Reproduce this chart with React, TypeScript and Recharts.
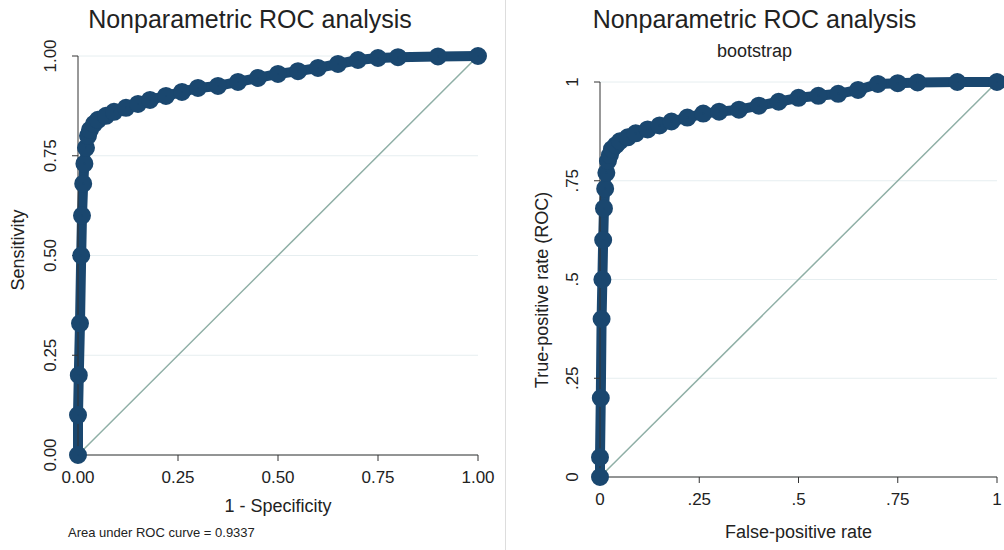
import React from 'react';
import { CartesianGrid, Line, LineChart, XAxis, YAxis } from 'recharts';

// ============ Data ============

const leftFpr = [0, 0, 0.002, 0.005, 0.008, 0.01, 0.013, 0.016, 0.02, 0.025, 0.03, 0.04, 0.05, 0.07, 0.09, 0.12, 0.15, 0.18, 0.22, 0.26, 0.3, 0.35, 0.4, 0.45, 0.5, 0.55, 0.6, 0.65, 0.7, 0.75, 0.8, 0.9, 1];
const leftTpr = [0, 0.1, 0.2, 0.33, 0.5, 0.6, 0.68, 0.73, 0.77, 0.8, 0.815, 0.83, 0.84, 0.85, 0.86, 0.87, 0.88, 0.89, 0.9, 0.91, 0.92, 0.925, 0.935, 0.945, 0.955, 0.962, 0.97, 0.98, 0.99, 0.995, 0.997, 0.999, 1];

const rightFpr = [0, 0, 0.002, 0.004, 0.006, 0.008, 0.01, 0.013, 0.016, 0.02, 0.025, 0.03, 0.04, 0.05, 0.07, 0.09, 0.12, 0.15, 0.18, 0.22, 0.26, 0.3, 0.35, 0.4, 0.45, 0.5, 0.55, 0.6, 0.65, 0.7, 0.75, 0.8, 0.9, 1];
const rightTpr = [0, 0.05, 0.2, 0.4, 0.5, 0.6, 0.68, 0.73, 0.77, 0.8, 0.815, 0.83, 0.84, 0.85, 0.86, 0.87, 0.88, 0.89, 0.9, 0.91, 0.92, 0.925, 0.93, 0.94, 0.95, 0.96, 0.965, 0.97, 0.98, 0.995, 0.997, 0.999, 1, 1];

const leftTicks = ['0.00', '0.25', '0.50', '0.75', '1.00'];
const rightTicks = ['0', '.25', '.5', '.75', '1'];
const tickValues = [0, 0.25, 0.5, 0.75, 1];

const CURVE = '#1a476f';
const DIAG = '#8fafa6';
const FONT = '"Liberation Sans", Arial, sans-serif';

const leftData = leftFpr.map((x, i) => ({ x, y: leftTpr[i] }));
const rightData = rightFpr.map((x, i) => ({ x, y: rightTpr[i] }));
const diagData = [{ x: 0, y: 0 }, { x: 1, y: 1 }];

// ============ Ticks ============

const makeYTick = (labels: string[]) => (props: any) => {
  const { x, y, payload } = props;
  const label = labels[tickValues.indexOf(payload.value)];
  return (
    <text x={x - 14} y={y} transform={`rotate(-90, ${x - 14}, ${y})`} textAnchor="middle" fontSize={17} fill="#222" fontFamily={FONT}>
      {label}
    </text>
  );
};

const makeXTick = (labels: string[]) => (props: any) => {
  const { x, y, payload } = props;
  const label = labels[tickValues.indexOf(payload.value)];
  return (
    <text x={x} y={y + 20} textAnchor="middle" fontSize={17} fill="#222" fontFamily={FONT}>
      {label}
    </text>
  );
};

// ============ Panel ============

const RocPanel: React.FC<{
  data: { x: number; y: number }[];
  labels: string[];
  width: number;
  margin: { top: number; right: number; bottom: number; left: number };
}> = ({ data, labels, width, margin }) => (
  <LineChart width={width} height={550} margin={margin}>
    <CartesianGrid horizontal vertical={false} stroke="#e6eef0" />
    <XAxis
      type="number"
      dataKey="x"
      domain={[0, 1]}
      ticks={tickValues}
      tick={makeXTick(labels)}
      height={30}
      stroke="#333"
      tickSize={6}
    />
    <YAxis
      type="number"
      dataKey="y"
      domain={[0, 1]}
      ticks={tickValues}
      tick={makeYTick(labels)}
      width={50}
      stroke="#333"
      tickSize={6}
    />
    <Line data={diagData} dataKey="y" stroke={DIAG} strokeWidth={1.5} dot={false} isAnimationActive={false} />
    <Line
      data={data}
      dataKey="y"
      stroke={CURVE}
      strokeWidth={10}
      strokeLinecap="round"
      strokeLinejoin="round"
      dot={{ r: 4, fill: CURVE, stroke: CURVE }}
      isAnimationActive={false}
    />
  </LineChart>
);

// ============ Main ============

const txt: React.CSSProperties = { position: 'absolute', fontFamily: FONT, color: '#222', whiteSpace: 'nowrap' };

export default function App() {
  return (
    <div style={{ position: 'absolute', left: 0, top: 0, width: 1004, height: 550, background: '#fff', overflow: 'hidden' }}>
      <div style={{ position: 'absolute', left: 0, top: 0 }}>
        <RocPanel data={leftData} labels={leftTicks} width={500} margin={{ top: 56, right: 22, bottom: 65, left: 28 }} />
      </div>
      <div style={{ position: 'absolute', left: 505, top: 0 }}>
        <RocPanel data={rightData} labels={rightTicks} width={499} margin={{ top: 82, right: 7, bottom: 43, left: 45 }} />
      </div>
      <div style={{ position: 'absolute', left: 505, top: 0, width: 1, height: 550, background: '#ddd' }} />

      <div style={{ ...txt, left: 0, width: 500, top: 5, textAlign: 'center', fontSize: 25 }}>Nonparametric ROC analysis</div>
      <div style={{ ...txt, left: 78, width: 400, top: 496, textAlign: 'center', fontSize: 18 }}>1 - Specificity</div>
      <div style={{ ...txt, left: 68, top: 525, fontSize: 13 }}>Area under ROC curve = 0.9337</div>
      <div style={{ ...txt, left: 18, top: 250, fontSize: 18, transform: 'translate(-50%, -50%) rotate(-90deg)' }}>Sensitivity</div>

      <div style={{ ...txt, left: 505, width: 499, top: 5, textAlign: 'center', fontSize: 25 }}>Nonparametric ROC analysis</div>
      <div style={{ ...txt, left: 505, width: 499, top: 41, textAlign: 'center', fontSize: 18 }}>bootstrap</div>
      <div style={{ ...txt, left: 600, width: 397, top: 522, textAlign: 'center', fontSize: 18 }}>False-positive rate</div>
      <div style={{ ...txt, left: 542, top: 290, fontSize: 18, transform: 'translate(-50%, -50%) rotate(-90deg)' }}>True-positive rate (ROC)</div>
    </div>
  );
}
